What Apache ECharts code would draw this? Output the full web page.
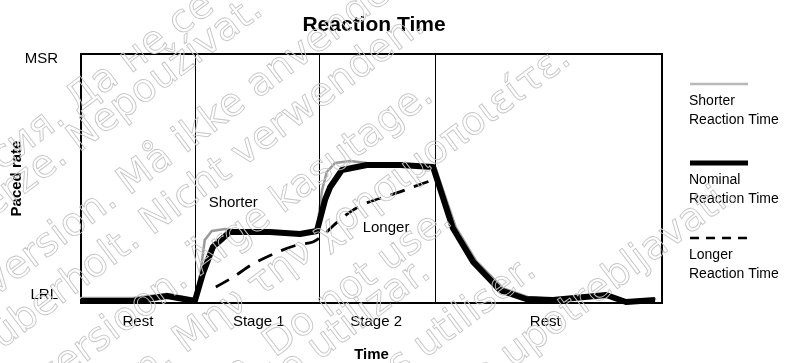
<!DOCTYPE html>
<html>
<head>
<meta charset="utf-8">
<script src="https://cdn.jsdelivr.net/npm/echarts@6/dist/echarts.min.js"></script>
<style>
  html, body { margin: 0; padding: 0; background: #fff; }
  #chart { width: 793px; height: 363px; }
</style>
</head>
<body>
<div id="chart"></div>
<script>
// Time runs 0..100 across the exercise; paced rate 0 (LRL) .. 100 (MSR).
const stageNames = ['Rest', 'Stage 1', 'Stage 2', 'Rest'];
const stageCenters = [9.8, 30.6, 50.8, 79.9];
const stageBounds = [19.6, 41.0, 61.0];

const rateLabels = ['LRL', 'MSR'];
const rateLabelValues = [3.2, 98];

// Nominal reaction time
const nominalTime = [0, 8.95, 14.8, 19.6, 21.0, 22.7, 25.6, 32.5, 37.7, 40.6, 42.0, 42.9, 44.9, 49.2, 54.9, 60.6, 64.0, 67.5, 72.1, 76.6, 81.2, 90.4, 93.8, 98.8];
const nominalRate = [0.8, 0.8, 2.8, 0.8, 12.0, 22.5, 28.5, 28.5, 27.7, 28.9, 41.4, 46.6, 53.4, 55.4, 55.4, 54.6, 30.1, 16.5, 5.2, 1.6, 1.2, 3.2, 0.4, 1.2];

// Shorter reaction time
const shorterTime = [0, 8.95, 14.8, 19.6, 20.5, 21.3, 22.5, 24.8, 27.4, 32.5, 37.7, 40.6, 41.5, 42.3, 43.7, 46.3, 49.2, 54.9, 60.9, 64.5, 68.0, 72.6, 76.9, 81.2, 90.4, 93.8, 98.8];
const shorterRate = [2.0, 2.0, 3.6, 1.6, 11.2, 25.3, 28.9, 29.7, 28.9, 28.5, 27.7, 29.3, 45.4, 52.6, 56.2, 57.0, 56.2, 55.4, 55.0, 30.5, 16.9, 6.0, 2.4, 1.6, 3.6, 0.8, 1.6];

// Longer reaction time
const longerTime = [23.2, 26.2, 29.6, 34.3, 37.2, 39.9, 41.7, 44.1, 46.3, 49.2, 54.9, 57.1, 61.1];
const longerRate = [6.4, 10.4, 15.7, 20.9, 23.3, 24.5, 27.3, 32.5, 36.5, 40.2, 44.6, 46.6, 49.8];

// Curve annotations [time, rate]
const shorterNote = [26.2, 40.2];
const longerNote = [52.5, 30.1];

// Legend entries
const legendEntries = [
  { lines: ['Shorter', 'Reaction Time'], kind: 'shorter' },
  { lines: ['Nominal', 'Reaction Time'], kind: 'nominal' },
  { lines: ['Longer', 'Reaction Time'], kind: 'longer' }
];

// Background notice, one line per language: text before and after the anchor
const noticeLines = [
  ['Остаряла версия. ', 'Да не се използва.', 71, 106],
  ['Zastaralá verze. ', 'Nepoužívat.', 73, 145],
  ['Forældet version. ', 'Må ikke anvendes.', 123, 188],
  ['Version überholt. ', 'Nicht verwenden.', 146, 228],
  ['Aegunud versioon. ', 'Ärge kasutage.', 194, 268],
  ['Παλιά έκδοση. ', 'Μην την χρησιμοποιείτε.', 179, 346],
  ['Outdated version. ', 'Do not use.', 269, 350],
  ['Versión obsoleta. No ', 'utilizar.', 313, 353],
  ['Version obsolète. Ne pas ', 'utiliser.', 419, 351],
  ['Zastarjela verzija. Nemojte u', 'potrebljavati.', 526, 345]
];

const zip = (xs, ys) => xs.map((x, i) => [x, ys[i]]);
const FONT = 'Liberation Sans, Arial, Helvetica, sans-serif';
const NOTICE_FONT = 'DejaVu Sans, Verdana, sans-serif';

const chart = echarts.init(document.getElementById('chart'), null, { renderer: 'canvas' });

// Legend drawn as line sample above two text lines
const legendGraphics = [];
const legendTops = [84, 163, 238];
legendEntries.forEach((e, i) => {
  const y = legendTops[i];
  const shape = { x1: 690, y1: y, x2: 748, y2: y };
  let style;
  if (e.kind === 'shorter') style = { stroke: '#b8b8b8', lineWidth: 2.5 };
  else if (e.kind === 'nominal') style = { stroke: '#000', lineWidth: 5 };
  else style = { stroke: '#000', lineWidth: 2.5, lineDash: [9, 7] };
  legendGraphics.push({ type: 'line', shape, style, z: 10 });
  e.lines.forEach((t, j) => {
    legendGraphics.push({
      type: 'text', x: 689, y: y + 17 + j * 19,
      style: { text: t, font: '14px ' + FONT, fill: '#000', align: 'left', verticalAlign: 'middle' },
      z: 10
    });
  });
});

const noticeGraphics = [];
const rot = 37 * Math.PI / 180;
noticeLines.forEach(([pre, post, x, y]) => {
  [[pre, 'right'], [post, 'left']].forEach(([t, align]) => {
    noticeGraphics.push({
      type: 'text', x, y, rotation: rot, silent: true,
      style: {
        text: t, font: '39px ' + NOTICE_FONT, align, verticalAlign: 'middle',
        fill: 'rgba(0,0,0,0)', stroke: '#c6c6c6', lineWidth: 0.9
      },
      z: 100
    });
  });
});

const option = {
  animation: false,
  backgroundColor: '#fff',
  title: {
    text: 'Reaction Time',
    left: 369, top: 10, textAlign: 'center',
    textStyle: { fontFamily: FONT, fontSize: 21, fontWeight: 'bold', color: '#000' }
  },
  grid: {
    left: 81, right: 131, top: 54, bottom: 60,
    outerBoundsMode: 'none', containLabel: false,
    show: true, borderColor: '#000', borderWidth: 2, backgroundColor: 'transparent'
  },
  xAxis: {
    type: 'value', min: 0, max: 100,
    name: 'Time', nameLocation: 'middle', nameGap: 44, nameMoveOverlap: false,
    nameTextStyle: { fontFamily: FONT, fontSize: 15, fontWeight: 'bold', color: '#000' },
    axisLine: { show: false }, axisTick: { show: false }, splitLine: { show: false },
    axisLabel: {
      customValues: stageCenters, margin: 11,
      fontFamily: FONT, fontSize: 15, color: '#000',
      formatter: v => stageNames[stageCenters.indexOf(v)]
    }
  },
  yAxis: {
    type: 'value', min: 0, max: 100,
    name: 'Paced rate', nameLocation: 'middle', nameGap: 57, nameRotate: 90, nameMoveOverlap: false,
    nameTextStyle: { fontFamily: FONT, fontSize: 15, fontWeight: 'bold', color: '#000' },
    axisLine: { show: false }, axisTick: { show: false }, splitLine: { show: false },
    axisLabel: {
      customValues: rateLabelValues, margin: 23,
      fontFamily: FONT, fontSize: 15, color: '#000',
      formatter: v => rateLabels[rateLabelValues.indexOf(v)]
    }
  },
  series: [
    {
      name: 'Longer Reaction Time', type: 'line', data: zip(longerTime, longerRate),
      showSymbol: false, smooth: 0.3,
      lineStyle: { color: '#000', width: 2.8, type: [15, 10] },
      markLine: {
        silent: true, symbol: 'none', label: { show: false },
        lineStyle: { color: '#000', width: 1, type: 'solid' },
        data: stageBounds.map(b => ({ xAxis: b }))
      },
      markPoint: {
        symbol: 'rect', symbolSize: 1, itemStyle: { color: 'rgba(0,0,0,0)' },
        label: { show: true, position: 'inside', color: '#000', fontFamily: FONT, fontSize: 15 },
        data: [
          { coord: shorterNote, value: 'Shorter', label: { formatter: 'Shorter' } },
          { coord: longerNote, value: 'Longer', label: { formatter: 'Longer' } }
        ]
      },
      z: 2
    },
    {
      name: 'Shorter Reaction Time', type: 'line', data: zip(shorterTime, shorterRate),
      showSymbol: false,
      lineStyle: { color: '#9a9a9a', width: 2.5, join: 'round', cap: 'round' },
      z: 3
    },
    {
      name: 'Nominal Reaction Time', type: 'line', data: zip(nominalTime, nominalRate),
      showSymbol: false,
      lineStyle: { color: '#000', width: 6, join: 'round', cap: 'butt' },
      z: 4
    }
  ],
  graphic: legendGraphics.concat(noticeGraphics)
};

chart.setOption(option);
</script>
</body>
</html>
